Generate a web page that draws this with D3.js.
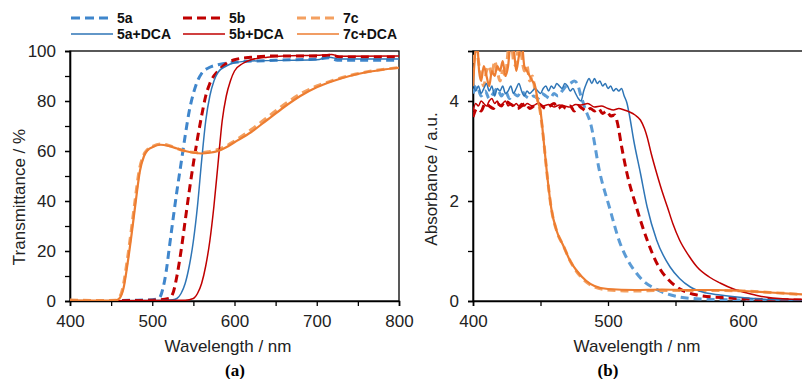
<!DOCTYPE html>
<html>
<head>
<meta charset="utf-8">
<script src="https://cdn.jsdelivr.net/npm/d3@7"></script>
<style>
body { margin:0; background:#fff; }
svg { font-family: Arial, "Liberation Sans", sans-serif; display:block; }
.tick text { font-size:17px; fill:#222; }
</style>
</head>
<body>
<div id="chart"></div>
<script>
// transmittance (left panel), [nm, %]
var t5a = [[400,0],[480,0.3],[500,0.5],[508,1],[513,5],[517,12],[521,22],[525,32],[530,44],[535,55],[540,66],[545,76],[550,83],[555,88],[560,91],[570,93.5],[580,94.5],[600,95.5],[650,96.3],[700,96.8],[715,97.3],[725,96.3],[800,96.3]];
var t5b = [[400,0],[500,0.3],[520,1],[525,3],[530,10],[535,20],[540,32],[545,44],[550,55],[555,65],[560,74],[565,82],[570,87],[580,92],[590,95],[600,96.5],[620,97.5],[650,98],[700,98],[718,98.3],[728,97.6],[800,97.6]];
var t7c = [[400,0.4],[440,0.2],[455,0.3],[459,1],[464,5],[469,15],[474,27],[479,40],[484,52],[489,58],[494,60.5],[500,61.8],[510,62.8],[520,62.2],[530,61],[540,60],[550,59.5],[560,59.3],[570,59.8],[580,60.6],[590,62],[600,64],[620,68.5],[640,73.5],[660,78.5],[680,82.8],[700,86],[720,88.3],[740,90.2],[760,91.6],[780,92.6],[800,93.4]];
var t5aDCA = [[400,0],[510,0.2],[525,0.5],[530,1],[535,3],[540,7],[545,14],[550,24],[555,38],[560,56],[565,72],[570,82],[575,88],[580,91.5],[590,94],[600,95.3],[620,96],[700,96.5],[715,97.5],[728,96.8],[800,96.8]];
var t5bDCA = [[400,0],[540,0.3],[550,1],[555,3],[560,7],[565,14],[570,24],[575,38],[580,55],[585,72],[590,82],[595,88],[600,92],[610,95],[620,96.5],[640,97.5],[660,98],[700,98.3],[718,98.6],[728,97.9],[800,98]];
var t7cDCA = [[400,0.3],[440,0.2],[456,0.3],[460,1],[465,5],[470,15],[475,27],[480,40],[485,52],[490,58],[495,60.5],[500,61.5],[510,62.5],[520,62],[530,61],[540,60],[550,59.3],[560,59],[570,59.3],[580,60],[590,61.5],[600,63.5],[620,67.5],[640,72.5],[660,77.5],[680,82],[700,85.5],[720,88],[740,90],[760,91.5],[780,92.5],[800,93.3]];

// absorbance (right panel), [nm, a.u.]
var a5a = [[400,4.15],[403,4.3],[406,4.1],[409,4.2],[412,4.05],[415,4.15],[418,4.25],[421,4.1],[424,4.2],[427,4.05],[430,4.15],[433,4.1],[436,4.2],[439,4.1],[442,4.05],[445,4.1],[448,4.05],[451,4.15],[454,4.1],[457,4.05],[460,4.15],[463,4.1],[466,4.2],[469,4.3],[472,4.35],[475,4.4],[477,4.36],[480,4.1],[483,3.85],[487,3.56],[494,2.56],[501,1.88],[509,1.15],[515,0.8],[521,0.56],[527,0.38],[534,0.26],[543,0.15],[553,0.08],[570,0.04],[600,0.02],[650,0.01]];
var a5b = [[400,3.68],[403,3.85],[406,3.8],[409,3.95],[412,3.9],[415,3.85],[418,3.95],[421,3.9],[424,4.0],[427,3.95],[430,3.9],[433,3.85],[436,3.9],[439,3.95],[442,3.85],[445,3.9],[448,3.95],[451,3.9],[454,3.85],[457,3.9],[460,3.95],[463,3.85],[466,3.9],[469,3.85],[472,3.9],[475,3.8],[478,3.9],[481,3.85],[484,3.8],[487,3.85],[490,3.8],[493,3.85],[496,3.75],[499,3.8],[502,3.7],[505,3.72],[507,3.56],[510,3.1],[514,2.56],[521,1.88],[529,1.22],[534,0.88],[539,0.62],[545,0.42],[551,0.28],[558,0.18],[566,0.12],[590,0.06],[615,0.03],[650,0.02]];
var a7c = [[400,4.5],[402,5.2],[404,4.8],[406,4.5],[408,4.3],[410,4.6],[412,4.7],[414,4.5],[416,4.8],[418,4.6],[420,4.4],[422,4.6],[424,4.5],[426,5.0],[428,5.3],[430,4.8],[432,4.7],[434,5.2],[436,4.9],[438,4.6],[440,4.7],[442,4.4],[444,4.5],[446,4.2],[448,4.0],[450,3.75],[452,3.3],[455,2.5],[458,1.85],[462,1.4],[467,1.1],[472,0.8],[477,0.58],[484,0.38],[490,0.28],[500,0.22],[520,0.2],[540,0.21],[560,0.21],[580,0.21],[600,0.2],[620,0.17],[650,0.12]];
var a5aDCA = [[400,4.38],[402,4.2],[404,4.3],[406,4.15],[408,4.25],[410,4.35],[412,4.2],[414,4.3],[416,4.1],[418,4.25],[420,4.2],[422,4.3],[424,4.15],[426,4.2],[428,4.3],[430,4.15],[432,4.25],[434,4.35],[436,4.2],[438,4.1],[440,4.2],[442,4.15],[444,4.2],[446,4.25],[448,4.2],[450,4.15],[452,4.25],[454,4.3],[456,4.2],[458,4.3],[460,4.25],[462,4.35],[464,4.3],[466,4.25],[468,4.35],[470,4.3],[472,4.2],[474,4.25],[476,4.15],[478,4.05],[480,4.0],[482,4.2],[484,4.35],[486,4.45],[488,4.35],[490,4.45],[492,4.35],[494,4.4],[496,4.3],[498,4.35],[500,4.25],[502,4.3],[504,4.2],[506,4.25],[508,4.2],[510,4.25],[512,4.1],[514,3.96],[516,3.7],[519,3.22],[524,2.56],[529,1.88],[536,1.22],[546,0.68],[553,0.45],[561,0.28],[570,0.18],[583,0.12],[603,0.06],[620,0.03],[650,0.02]];
var a5bDCA = [[400,3.8],[402,3.95],[404,3.9],[406,4.0],[408,3.95],[410,3.9],[412,4.0],[414,4.05],[416,3.95],[418,4.0],[420,3.9],[422,3.95],[424,4.0],[426,3.9],[428,3.95],[430,3.9],[432,3.95],[434,3.9],[436,3.95],[438,3.9],[440,3.95],[444,3.9],[448,3.95],[452,3.9],[456,3.93],[460,3.88],[464,3.92],[468,3.9],[472,3.88],[476,3.93],[480,3.92],[485,3.95],[490,3.88],[495,3.9],[500,3.85],[504,3.82],[508,3.85],[512,3.82],[516,3.78],[520,3.72],[524,3.62],[527,3.45],[529,3.28],[532,2.95],[536,2.56],[540,2.2],[544,1.88],[548,1.55],[553,1.22],[560,0.9],[566,0.68],[575,0.48],[583,0.36],[593,0.24],[603,0.16],[612,0.1],[622,0.06],[632,0.04],[650,0.03]];
var a7cDCA = [[400,4.3],[401.5,4.9],[403,5.2],[404.5,4.6],[406,4.4],[408,4.7],[410,4.5],[412,4.3],[414,4.6],[416,4.5],[418,4.7],[420,4.6],[422,4.8],[424,4.5],[426,4.7],[428,5.2],[430,5.1],[432,4.6],[434,4.9],[436,5.2],[438,4.7],[440,4.6],[442,4.5],[444,4.4],[446,4.3],[448,4.0],[450,3.8],[452,3.3],[455,2.5],[458,1.85],[462,1.4],[467,1.1],[472,0.8],[477,0.6],[484,0.4],[490,0.3],[500,0.24],[520,0.22],[540,0.23],[560,0.22],[580,0.22],[600,0.2],[620,0.17],[650,0.12]];

var seriesNames = ["5a","5b","7c","5a+DCA","5b+DCA","7c+DCA"];
var seriesColors = ["#3F86CC","#C00000","#F4A060","#2E75B6","#C00000","#ED7D31"];
var seriesDashed = [true,true,true,false,false,false];

var xTicksA = [400,500,600,700,800];
var xTicksB = [400,500,600];
var tTicks = [0,20,40,60,80,100];
var aTicks = [0,2,4];

var svg = d3.select("#chart").append("svg")
  .attr("width", 802)
  .attr("height", 379);

function drawPanel(id, left, right, xDomain, yDomain, xMajor, yMajor, yMinorStep, xMinor, data, colors) {
  var top = 51, bottom = 301;
  var x = d3.scaleLinear().domain(xDomain).range([left, right]);
  var y = d3.scaleLinear().domain(yDomain).range([bottom, top]);
  var g = svg.append("g");

  g.append("clipPath").attr("id", id)
    .append("rect").attr("x", left).attr("y", top).attr("width", right - left).attr("height", bottom - top);

  // frame
  g.append("rect")
    .attr("x", left).attr("y", top)
    .attr("width", right - left).attr("height", bottom - top)
    .attr("fill", "none").attr("stroke", "#000").attr("stroke-width", 1.3);

  // minor ticks
  g.append("g").attr("transform", "translate(0," + bottom + ")")
    .call(d3.axisBottom(x).tickValues(xMinor).tickSize(5).tickFormat(""))
    .call(function(s){ s.select(".domain").remove(); s.selectAll("line").attr("stroke","#000").attr("stroke-width",1.3); });
  g.append("g").attr("transform", "translate(" + left + ",0)")
    .call(d3.axisLeft(y).tickValues(d3.range(yDomain[0], yDomain[1] + 0.001, yMinorStep)).tickSize(5).tickFormat(""))
    .call(function(s){ s.select(".domain").remove(); s.selectAll("line").attr("stroke","#000").attr("stroke-width",1.3); });

  // major axes
  g.append("g").attr("transform", "translate(0," + bottom + ")")
    .call(d3.axisBottom(x).tickValues(xMajor).tickSize(5).tickPadding(9).tickFormat(d3.format("d")))
    .call(function(s){ s.select(".domain").attr("stroke","#000").attr("stroke-width",1.6); s.selectAll("line").attr("stroke","#000").attr("stroke-width",1.3); });
  g.append("g").attr("transform", "translate(" + left + ",0)")
    .call(d3.axisLeft(y).tickValues(yMajor).tickSize(5).tickPadding(9).tickFormat(d3.format("d")))
    .call(function(s){ s.select(".domain").attr("stroke","#000").attr("stroke-width",1.6); s.selectAll("line").attr("stroke","#000").attr("stroke-width",1.3); });

  var line = d3.line()
    .x(function(d){ return x(d[0]); })
    .y(function(d){ return y(d[1]); })
    .curve(d3.curveMonotoneX);

  var plot = g.append("g").attr("clip-path", "url(#" + id + ")");
  data.forEach(function(d, i) {
    plot.append("path")
      .datum(d)
      .attr("d", line)
      .attr("fill", "none")
      .attr("stroke", colors[i])
      .attr("stroke-width", seriesDashed[i] ? 3 : (i == 5 ? 2.2 : 1.5))
      .attr("stroke-dasharray", seriesDashed[i] ? "8,5" : null)
      .attr("stroke-linejoin", "round");
  });
  return g;
}

// draw order: dashed first, then solid
drawPanel("clipA", 70, 399, [400, 800], [0, 100], xTicksA, tTicks, 10,
  [450,550,650,750],
  [t5a, t5b, t7c, t5aDCA, t5bDCA, t7cDCA], seriesColors);

// right panel runs past the window edge, as in the original figure
drawPanel("clipB", 473, 878, [400, 700], [0, 5], xTicksB, aTicks, 1,
  [450,550,650],
  [a5a, a5b, a7c, a5aDCA, a5bDCA, a7cDCA],
  ["#5B9BD5","#C00000","#F4A060","#2E75B6","#C00000","#ED7D31"]);

// axis titles
var labels = svg.append("g").attr("fill", "#222");
labels.append("text").text("Transmittance / %")
  .attr("transform", "translate(25,197) rotate(-90)")
  .attr("text-anchor", "middle").style("font-size", "17px");
labels.append("text").text("Absorbance / a.u.")
  .attr("transform", "translate(437,179) rotate(-90)")
  .attr("text-anchor", "middle").style("font-size", "17px");
labels.append("text").text("Wavelength / nm")
  .attr("x", 228).attr("y", 352)
  .attr("text-anchor", "middle").style("font-size", "17px");
labels.append("text").text("Wavelength / nm")
  .attr("x", 637).attr("y", 352)
  .attr("text-anchor", "middle").style("font-size", "17px");
labels.append("text").text("(a)")
  .attr("x", 235).attr("y", 376)
  .attr("text-anchor", "middle")
  .style("font-family", "'Liberation Serif','Times New Roman',serif")
  .style("font-weight", "bold").style("font-size", "17px").attr("fill", "#000");
labels.append("text").text("(b)")
  .attr("x", 608).attr("y", 376)
  .attr("text-anchor", "middle")
  .style("font-family", "'Liberation Serif','Times New Roman',serif")
  .style("font-weight", "bold").style("font-size", "17px").attr("fill", "#000");

// legend, 3 columns x 2 rows
var legendX = [71, 183, 297];
var legendY = [18, 34];
var legend = svg.append("g");
seriesNames.forEach(function(name, i) {
  var col = i % 3, row = Math.floor(i / 3);
  var lx = legendX[col], ly = legendY[row];
  legend.append("line")
    .attr("x1", lx).attr("x2", lx + 42)
    .attr("y1", ly).attr("y2", ly)
    .attr("stroke", seriesColors[i])
    .attr("stroke-width", seriesDashed[i] ? 3 : 1.5)
    .attr("stroke-dasharray", seriesDashed[i] ? "9,5" : null);
  legend.append("text")
    .text(name)
    .attr("x", lx + 46).attr("y", ly + 5)
    .style("font-size", "14px").style("font-weight", "bold")
    .attr("fill", "#111");
});
</script>
</body>
</html>
